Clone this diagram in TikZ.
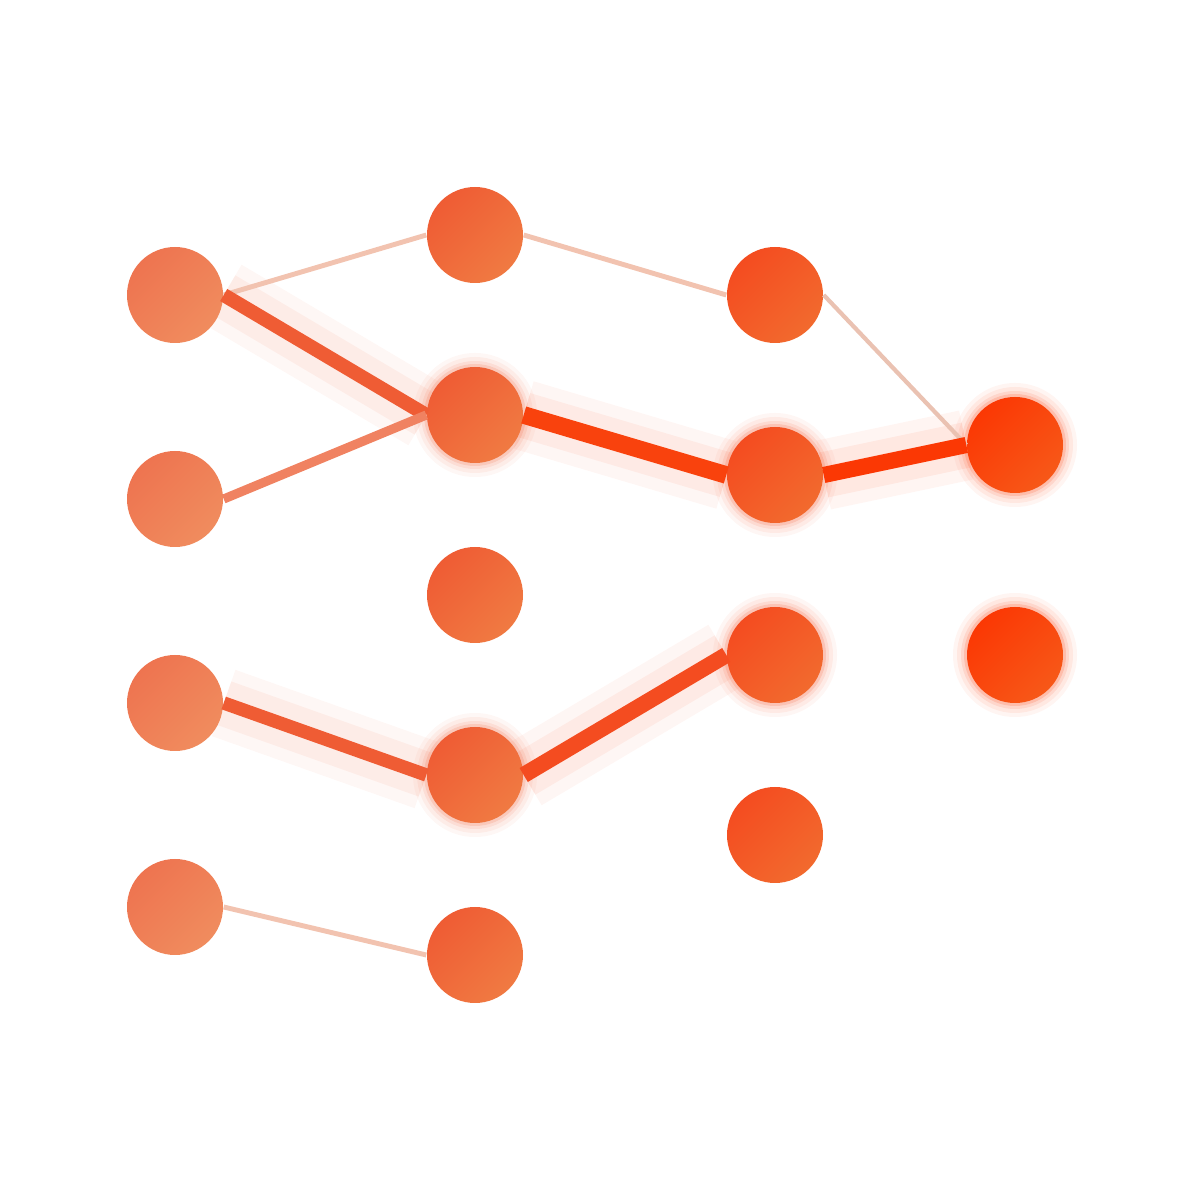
\documentclass[tikz,border=0pt]{standalone}
\usepackage{xcolor}
\usepackage{tikz}
\usetikzlibrary{calc}
\usetikzlibrary{positioning}
\usetikzlibrary{backgrounds}

\definecolor{onea}{HTML}{EE7450}
\definecolor{oneb}{HTML}{F08C5E}
\definecolor{twoa}{HTML}{EF5C34}
\definecolor{twob}{HTML}{F07A42}
\definecolor{threea}{HTML}{F44C20}
\definecolor{threeb}{HTML}{F26A2E}
\definecolor{foura}{HTML}{FB3804}
\definecolor{fourb}{HTML}{F75818}
\definecolor{faint}{HTML}{F2C3B0}
\definecolor{greyish}{HTML}{EAC2B2}

\begin{document}
\begin{tikzpicture}[
    neuron/.style 2 args={circle, minimum size=0.96cm, inner sep=0pt,
      top color=#1, bottom color=#2, shading angle=45},
    first/.style={neuron={onea}{oneb}},
    second/.style={neuron={twoa}{twob}},
    third/.style={neuron={threea}{threeb}},
    fourth/.style={neuron={foura}{fourb}},
    weak/.style={draw=faint, line width=1.4pt},
    strong/.style={line width=#1}
  ]
    \useasboundingbox (0, 0) rectangle (11.92, 11.89);

    % input layer
    \node [first] (a1) at (1.75, 8.94) {};
    \node [first] (a2) at (1.75, 6.90) {};
    \node [first] (a3) at (1.75, 4.86) {};
    \node [first] (a4) at (1.75, 2.82) {};

    % hidden layer one
    \node [second] (b1) at (4.75, 9.54) {};
    \node [second] (b2) at (4.75, 7.74) {};
    \node [second] (b3) at (4.75, 5.94) {};
    \node [second] (b4) at (4.75, 4.14) {};
    \node [second] (b5) at (4.75, 2.34) {};

    % hidden layer two
    \node [third] (c1) at (7.75, 8.94) {};
    \node [third] (c2) at (7.75, 7.14) {};
    \node [third] (c3) at (7.75, 5.34) {};
    \node [third] (c4) at (7.75, 3.54) {};

    % output layer
    \node [fourth] (d1) at (10.15, 7.44) {};
    \node [fourth] (d2) at (10.15, 5.34) {};

    % glow behind the active path
    \begin{scope}[on background layer]
      \foreach \n/\col in {b2/twoa, b4/twoa, c2/threea, c3/threea, d1/foura, d2/foura} {
        \foreach \r/\o in {0.62/0.05, 0.58/0.07, 0.54/0.10, 0.51/0.16} {
          \fill [\col, opacity=\o] (\n) circle (\r);
        }
      }
      \foreach \p/\q/\col in {a1/b2/twoa, b2/c2/threea, c2/d1/foura, a3/b4/twoa, b4/c3/threea} {
        \draw [\col, opacity=0.05, line width=20pt] (\p.east) -- (\q.west);
        \draw [\col, opacity=0.07, line width=13pt] (\p.east) -- (\q.west);
      }
    \end{scope}

    % weak connections
    \draw [weak] (a1.east) -- (b1.west);
    \draw [weak] (b1.east) -- (c1.west);
    \draw [weak, draw=greyish, line width=1.2pt] (c1.east) -- (d1.west);
    \draw [weak] (a4.east) -- (b5.west);

    % strong connections
    \draw [strong=4pt, color=twoa] (a1.east) -- (b2.west);
    \draw [strong=2.6pt, color=onea!90] (a2.east) -- (b2.west);
    \draw [strong=5pt, color=foura!85!twob] (b2.east) -- (c2.west);
    \draw [strong=4.6pt, color=foura] (c2.east) -- (d1.west);
    \draw [strong=3.8pt, color=twoa] (a3.east) -- (b4.west);
    \draw [strong=4.6pt, color=threea] (b4.east) -- (c3.west);

  \end{tikzpicture}
\end{document}
